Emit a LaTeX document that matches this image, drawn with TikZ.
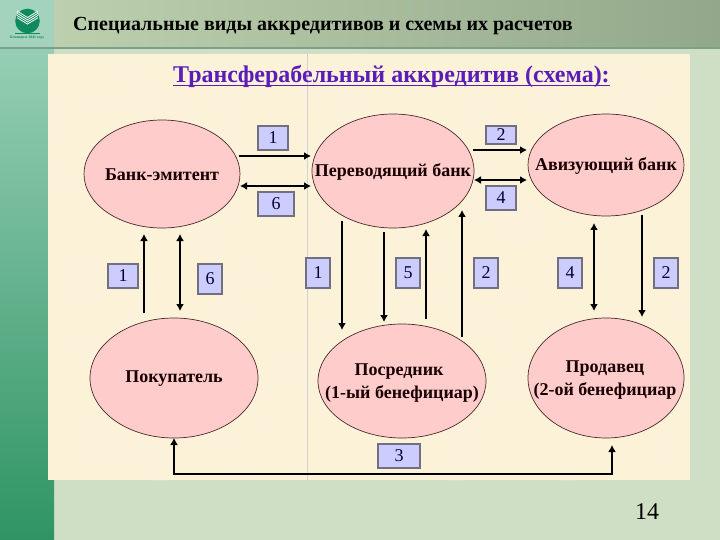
\documentclass[tikz,border=0pt]{standalone}
\usepackage{fontspec}
\setmainfont{Liberation Serif}
\usetikzlibrary{arrows.meta,calc,shapes.geometric}
\definecolor{pagebg}{HTML}{CFDFC5}
\definecolor{panelbg}{HTML}{FCF2D8}
\definecolor{panelspot}{HTML}{FFF8E8}
\definecolor{ovalfill}{HTML}{FFCCCC}
\definecolor{ovalline}{HTML}{4A2A2A}
\definecolor{boxfill}{HTML}{CCCCFF}
\definecolor{boxline}{HTML}{707080}
\definecolor{titlepurple}{HTML}{5A1DB8}
\definecolor{logogreen}{HTML}{0E8A5C}
\definecolor{stripTop}{HTML}{A0D4BC}
\definecolor{stripBot}{HTML}{2F9464}
\definecolor{headL}{HTML}{BCD0AE}
\definecolor{headR}{HTML}{93A88A}
\definecolor{headLine}{HTML}{7FA088}
\definecolor{logobg}{HTML}{A3D3BC}
\tikzset{
  ovaltext/.style={font=\fontsize{18}{22.5}\selectfont\bfseries,align=center,text=black!90!red,inner sep=0pt},
  numbox/.style={draw=boxline,line width=1.2pt,fill=boxfill,inner sep=0pt,font=\fontsize{18}{20}\selectfont,text=black!80!blue},
  conn/.style={line width=2.4pt,draw=black,-{Latex[length=7pt,width=8pt]}},
  conntwo/.style={line width=2.4pt,draw=black,{Latex[length=7pt,width=8pt]}-{Latex[length=7pt,width=8pt]}}
}
\newcommand{\ovalat}[8]{% name, cx, cy, w, h, text, tx, ty
  \node[ellipse,draw=ovalline,line width=.7pt,fill=ovalfill,inner sep=0pt,minimum width=#4pt,minimum height=#5pt] (#1) at (#2,#3) {};
  \node[ovaltext] (#1t) at (#7,#8) {#6};
}
\newcommand{\boxat}[6]{% name, x0,y0,x1,y1,text
  \node[numbox,minimum width={#4pt-#2pt},minimum height={#5pt-#3pt}] (#1) at ({(#2+#4)/2},{(#3+#5)/2}) {#6};
}
\begin{document}
\begin{tikzpicture}[x=1pt,y=-1pt]
\useasboundingbox (0,0) rectangle (720,540);
% backgrounds
\fill[pagebg] (0,0) rectangle (720,540);
\shade[top color=stripTop,bottom color=stripBot] (0,0) rectangle (54,540);
\shade[left color=headL,right color=headR] (54,0) rectangle (720,47);
\fill[logobg] (0,0) rectangle (54,47);
\fill[headLine] (0,47) rectangle (720,49);
\fill[panelbg] (48,54) rectangle (690,480);
% panel mottling
\pgfmathsetseed{7}
\begin{scope}
\clip (48,54) rectangle (690,480);
\foreach \i in {1,...,160}{
  \pgfmathsetmacro{\px}{48+642*rnd}
  \pgfmathsetmacro{\py}{54+426*rnd}
  \pgfmathsetmacro{\pr}{8+16*rnd}
  \fill[panelspot,opacity=.12] (\px,\py) circle (\pr);
}
\end{scope}
\draw[black!18,line width=.6pt] (307,54) -- (307,480);
% logo
\fill[logogreen] (27.5,21) circle (12.3);
\foreach \d in {0,2.2,4.4,6.6}{
  \draw[white,line width=.8pt] (17,{11+\d}) -- (27.5,{17.5+\d}) -- (38,{11+\d});
}
\fill[logogreen] (15,33.5) rectangle (40,34.1);
\node[font=\fontsize{3.8}{4}\selectfont\bfseries,text=logogreen,inner sep=0pt] (logotext) at (27,38) {Основан в 1841 году};
% titles
\node[font=\fontsize{20}{22}\selectfont\bfseries,anchor=west,inner sep=0pt] (head) at (73,26) {Специальные виды аккредитивов и схемы их расчетов};
\node[font=\fontsize{24}{26}\selectfont\bfseries,text=titlepurple,anchor=west,inner sep=0pt] (title) at (173,76) {Трансферабельный аккредитив (схема):};
\draw[titlepurple,line width=1.4pt] (173,85.5) -- (610,85.5);
\node[font=\fontsize{24}{26}\selectfont,anchor=center,inner sep=0pt] (pagenum) at (647,512) {14};
% ovals
\ovalat{be}{162}{174}{156}{108}{Банк-эмитент}{162}{175}
\ovalat{pb}{393}{171}{162}{114}{Переводящий банк}{393}{172}
\ovalat{ab}{606}{165}{156}{102}{Авизующий банк}{606}{166}
\ovalat{bu}{174}{378}{168}{120}{Покупатель}{174}{379}
\ovalat{po}{402}{381}{168}{114}{Посредник\hspace*{6pt}\\(1-ый бенефициар)}{402}{383}
\ovalat{pr}{606}{378}{156}{120}{Продавец\\(2-ой бенефициар}{605}{380}
% boxes
\boxat{b1}{258}{126}{288}{150}{1}
\boxat{b6}{258}{192}{294}{216}{6}
\boxat{c2}{486}{126}{516}{144}{2}
\boxat{c4}{486}{186}{516}{210}{4}
\boxat{d1}{108}{264}{138}{288}{1}
\boxat{d6}{198}{264}{222}{294}{6}
\boxat{e1}{306}{258}{330}{288}{1}
\boxat{e5}{396}{258}{420}{288}{5}
\boxat{e2}{474}{258}{498}{288}{2}
\boxat{f4}{558}{258}{582}{288}{4}
\boxat{f2}{654}{258}{678}{288}{2}
\boxat{g3}{378}{444}{420}{468}{3}
% connector ends
\coordinate (a1s) at (239,156); \coordinate (a1e) at (311,156);
\coordinate (a6s) at (240,186); \coordinate (a6e) at (311,186);
\coordinate (a2s) at (473,150); \coordinate (a2e) at (527,150);
\coordinate (a4s) at (474,180); \coordinate (a4e) at (527,180);
\coordinate (l1s) at (144,313); \coordinate (l1e) at (144,234);
\coordinate (l6s) at (180,234); \coordinate (l6e) at (180,311);
\coordinate (m1s) at (342,221); \coordinate (m1e) at (342,330);
\coordinate (m2s) at (384,232); \coordinate (m2e) at (384,322);
\coordinate (m3s) at (426,319); \coordinate (m3e) at (426,229);
\coordinate (m4s) at (462,337); \coordinate (m4e) at (462,210);
\coordinate (r1s) at (594,223); \coordinate (r1e) at (594,311);
\coordinate (r2s) at (642,215); \coordinate (r2e) at (642,317);
\coordinate (u1) at (174,438); \coordinate (u2) at (174,474);
\coordinate (u3) at (612,474); \coordinate (u4) at (612,445);
\draw[conn] (a1s) -- (a1e);
\draw[conntwo] (a6s) -- (a6e);
\draw[conn] (a2s) -- (a2e);
\draw[conntwo] (a4s) -- (a4e);
\draw[conn] (l1s) -- (l1e);
\draw[conntwo] (l6s) -- (l6e);
\draw[conn] (m1s) -- (m1e);
\draw[conn] (m2s) -- (m2e);
\draw[conn] (m3s) -- (m3e);
\draw[conn] (m4s) -- (m4e);
\draw[conntwo] (r1s) -- (r1e);
\draw[conn] (r2s) -- (r2e);
\draw[conntwo] (u1) -- (u2) -- (u3) -- (u4);
\end{tikzpicture}
\end{document}
